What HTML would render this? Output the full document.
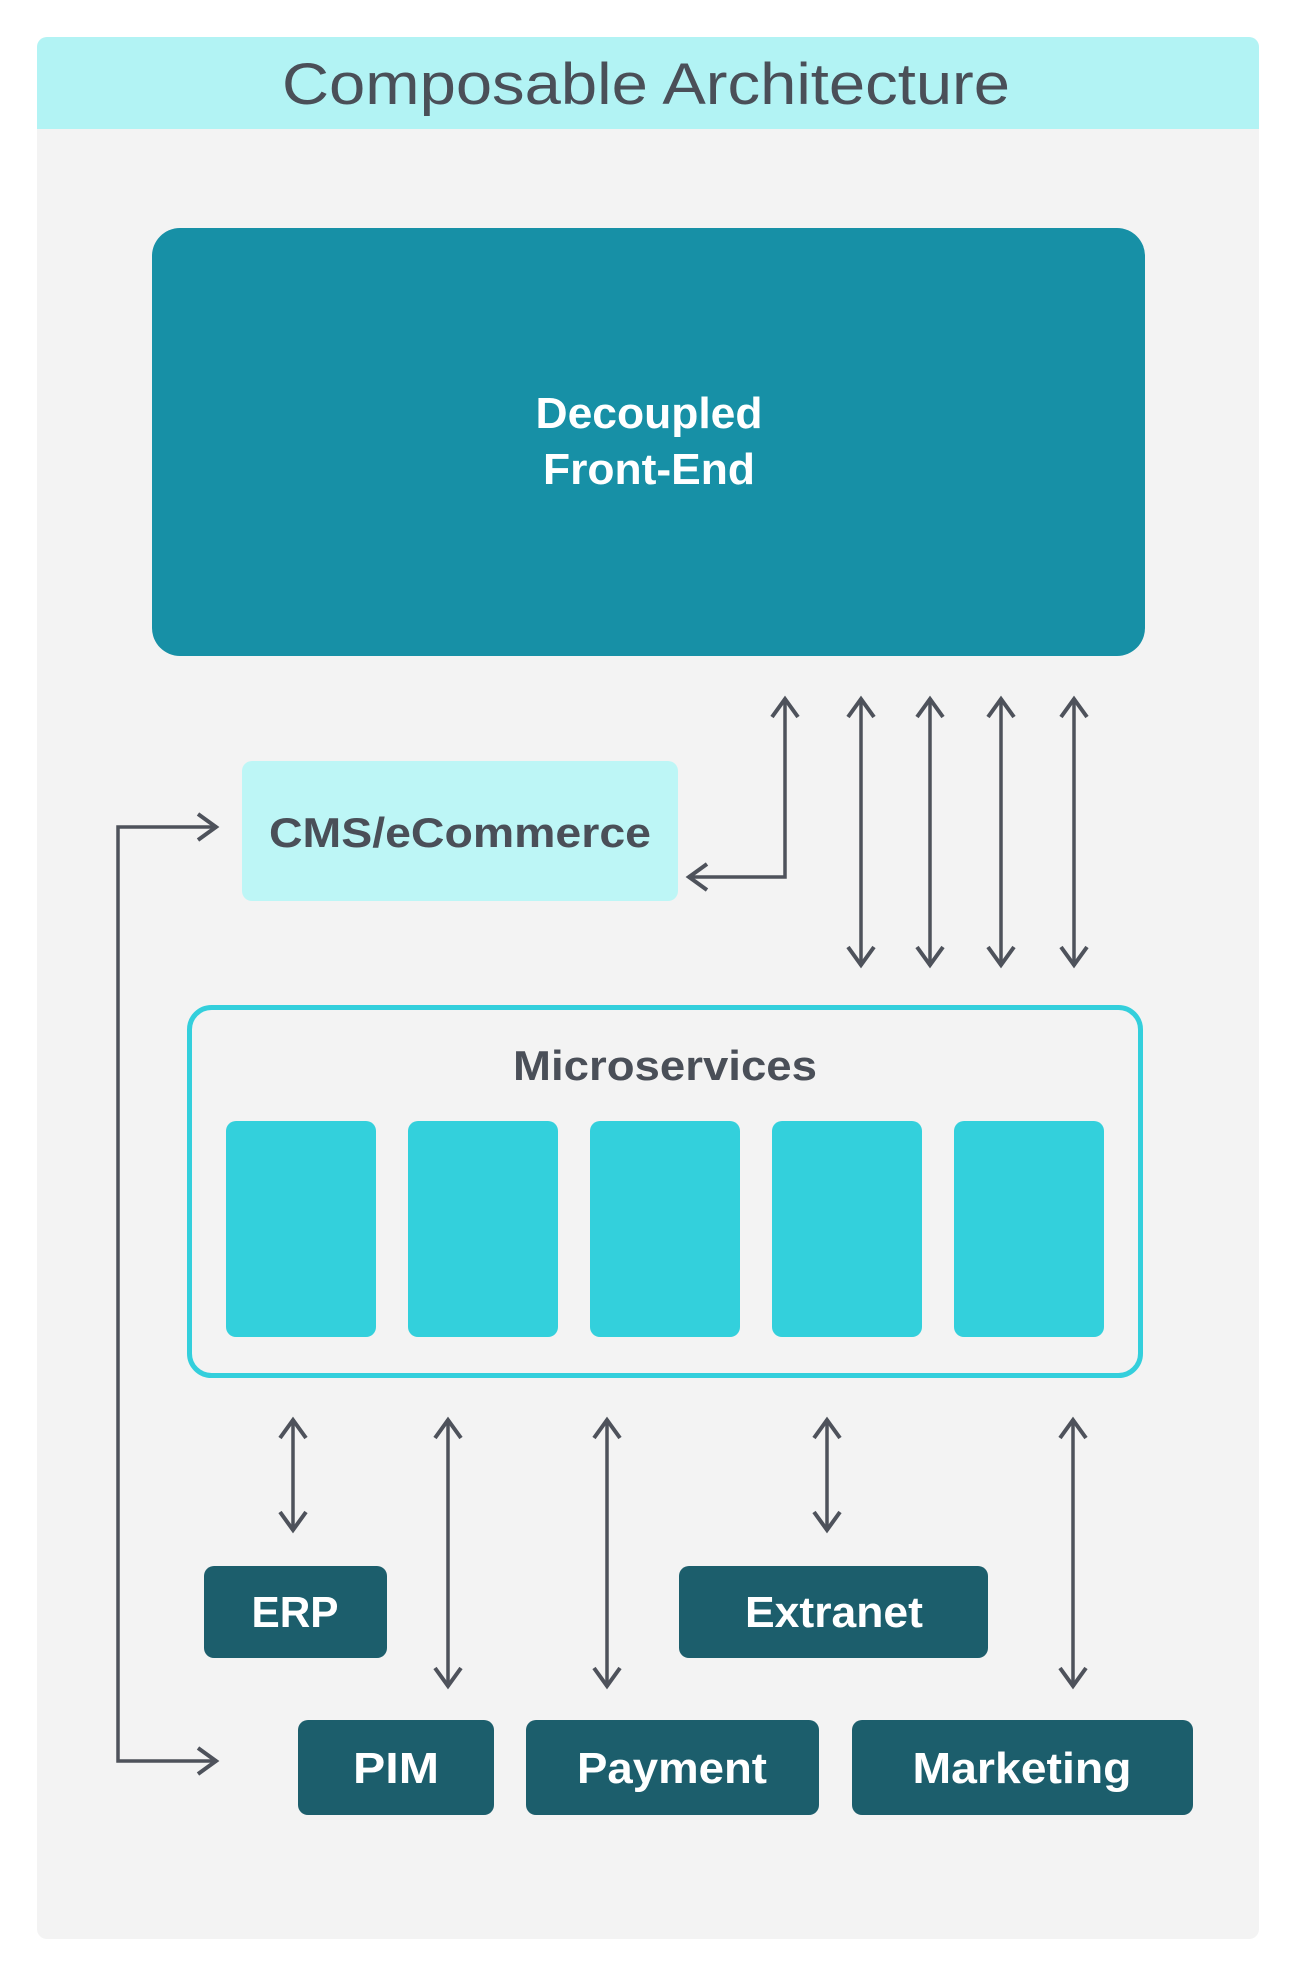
<!DOCTYPE html>
<html><head><meta charset="utf-8"><style>
html,body{margin:0;padding:0;background:#fff;width:1294px;height:1976px;overflow:hidden}
svg{display:block}
text{font-family:"Liberation Sans",sans-serif}
</style></head><body>
<svg width="1294" height="1976" viewBox="0 0 1294 1976" xmlns="http://www.w3.org/2000/svg">
<defs>
<marker id="a" viewBox="0 0 30 30" refX="27" refY="15" markerWidth="30" markerHeight="30" markerUnits="userSpaceOnUse" orient="auto-start-reverse">
<path d="M8 2 L26 15 L8 28" fill="none" stroke="#4e525b" stroke-width="4" stroke-linejoin="miter"/>
</marker>
</defs>
<rect x="37" y="37" width="1222" height="1902" rx="10" fill="#f3f3f3"/>
<path d="M37 129 V47 a10 10 0 0 1 10 -10 H1249 a10 10 0 0 1 10 10 V129 Z" fill="#b2f3f4"/>
<text x="646" y="104" font-size="58" fill="#4a4f58" text-anchor="middle" textLength="728" lengthAdjust="spacingAndGlyphs">Composable Architecture</text>

<rect x="152" y="228" width="993" height="428" rx="28" fill="#1790a6"/>
<text x="649" y="428" font-size="44" font-weight="bold" fill="#fff" text-anchor="middle" textLength="227" lengthAdjust="spacingAndGlyphs">Decoupled</text>
<text x="649" y="484" font-size="44" font-weight="bold" fill="#fff" text-anchor="middle" textLength="212" lengthAdjust="spacingAndGlyphs">Front-End</text>

<rect x="242" y="761" width="436" height="140" rx="10" fill="#bdf6f6"/>
<text x="460" y="847" font-size="42" font-weight="bold" fill="#4a4f58" text-anchor="middle" textLength="382" lengthAdjust="spacingAndGlyphs">CMS/eCommerce</text>

<g stroke="#4e525b" stroke-width="3.5" fill="none">
<path d="M785 698 V877 H688" marker-start="url(#a)" marker-end="url(#a)"/>
<path d="M861 698 V966" marker-start="url(#a)" marker-end="url(#a)"/>
<path d="M930 698 V966" marker-start="url(#a)" marker-end="url(#a)"/>
<path d="M1001 698 V966" marker-start="url(#a)" marker-end="url(#a)"/>
<path d="M1074 698 V966" marker-start="url(#a)" marker-end="url(#a)"/>
<path d="M217 827 H118 V1761 H217" marker-start="url(#a)" marker-end="url(#a)"/>
<path d="M293 1419 V1531" marker-start="url(#a)" marker-end="url(#a)"/>
<path d="M448 1419 V1687" marker-start="url(#a)" marker-end="url(#a)"/>
<path d="M607 1419 V1687" marker-start="url(#a)" marker-end="url(#a)"/>
<path d="M827 1419 V1531" marker-start="url(#a)" marker-end="url(#a)"/>
<path d="M1073 1419 V1687" marker-start="url(#a)" marker-end="url(#a)"/>
</g>

<rect x="189.5" y="1007.5" width="951" height="368" rx="22" fill="none" stroke="#33cfdc" stroke-width="5"/>
<text x="665" y="1080" font-size="42" font-weight="bold" fill="#4a4f58" text-anchor="middle" textLength="304" lengthAdjust="spacingAndGlyphs">Microservices</text>
<g fill="#33d0dc">
<rect x="226" y="1121" width="150" height="216" rx="10"/>
<rect x="408" y="1121" width="150" height="216" rx="10"/>
<rect x="590" y="1121" width="150" height="216" rx="10"/>
<rect x="772" y="1121" width="150" height="216" rx="10"/>
<rect x="954" y="1121" width="150" height="216" rx="10"/>
</g>

<g fill="#1c5e6c">
<rect x="204" y="1566" width="183" height="92" rx="10"/>
<rect x="679" y="1566" width="309" height="92" rx="10"/>
<rect x="298" y="1720" width="196" height="95" rx="10"/>
<rect x="526" y="1720" width="293" height="95" rx="10"/>
<rect x="852" y="1720" width="341" height="95" rx="10"/>
</g>
<g fill="#fff" font-weight="bold" font-size="44" text-anchor="middle">
<text x="295" y="1627" textLength="87" lengthAdjust="spacingAndGlyphs">ERP</text>
<text x="834" y="1627" textLength="178" lengthAdjust="spacingAndGlyphs">Extranet</text>
<text x="396" y="1783" textLength="86" lengthAdjust="spacingAndGlyphs">PIM</text>
<text x="672" y="1783" textLength="190" lengthAdjust="spacingAndGlyphs">Payment</text>
<text x="1022" y="1783" textLength="219" lengthAdjust="spacingAndGlyphs">Marketing</text>
</g>
</svg>
</body></html>
